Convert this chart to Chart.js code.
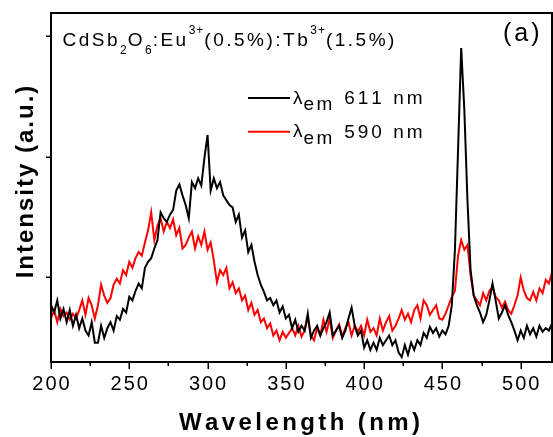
<!DOCTYPE html>
<html><head><meta charset="utf-8">
<script src="https://cdn.jsdelivr.net/npm/chart.js@4/dist/chart.umd.min.js"></script>
<style>html,body{margin:0;padding:0;background:#fff;}#wrap{width:553px;height:437px;}</style>
</head><body><div id="wrap"><canvas id="c" width="553" height="437"></canvas></div>
<script>
// ---- data ----
const wavelengths = [
200,202,204,206,208,210,212,214,216,218,
220,222,224,226,228,230,232,234,236,238,
240,242,244,246,248,250,252,254,256,258,
260,262,264,266,268,270,272,274,276,278,
280,282,284,286,288,290,292,294,296,298,
300,302,304,306,308,310,312,314,316,318,
320,322,324,326,328,330,332,334,336,338,
340,342,344,346,348,350,352,354,356,358,
360,362,364,366,368,370,372,374,376,378,
380,382,384,386,388,390,392,394,396,398,
400,402,404,406,408,410,412,414,416,418,
420,422,424,426,428,430,432,434,436,438,
440,442,444,446,448,450,452,454,456,458,
460,462,464,466,468,470,472,474,476,478,
480,482,484,486,488,490,492,494,496,498,
500,502,504,506,508,510,512,514,516,518,
520];
const intensity611 = [
0.77,0.71,0.81,0.66,0.74,0.63,0.73,0.60,0.69,0.58,
0.66,0.56,0.52,0.63,0.46,0.46,0.60,0.50,0.58,0.63,
0.56,0.68,0.65,0.74,0.71,0.84,0.81,0.89,0.95,0.91,
1.08,1.13,1.16,1.24,1.31,1.54,1.49,1.46,1.52,1.56,
1.72,1.77,1.68,1.60,1.49,1.79,1.74,1.82,1.76,1.99,
2.18,1.72,1.82,1.74,1.79,1.68,1.64,1.60,1.58,1.46,
1.52,1.33,1.39,1.21,1.27,1.13,1.02,0.94,0.88,0.81,
0.83,0.77,0.81,0.71,0.76,0.66,0.69,0.58,0.65,0.55,
0.60,0.56,0.70,0.50,0.56,0.60,0.52,0.58,0.63,0.71,
0.52,0.56,0.60,0.50,0.56,0.66,0.75,0.60,0.52,0.56,
0.42,0.48,0.40,0.46,0.40,0.50,0.44,0.48,0.52,0.44,
0.48,0.38,0.34,0.44,0.36,0.46,0.40,0.48,0.44,0.54,
0.50,0.59,0.54,0.58,0.51,0.56,0.53,0.60,0.77,1.23,
2.06,2.90,2.39,1.64,1.06,0.85,0.77,0.71,0.63,0.69,
0.81,0.95,0.81,0.66,0.71,0.77,0.69,0.63,0.56,0.48,
0.56,0.50,0.60,0.53,0.58,0.51,0.60,0.55,0.58,0.56,
0.62];
const intensity590 = [
0.66,0.73,0.63,0.74,0.68,0.71,0.65,0.70,0.66,0.73,
0.81,0.69,0.83,0.77,0.66,0.77,0.94,0.85,0.79,0.83,
0.94,0.99,0.95,1.06,1.02,1.13,1.08,1.16,1.21,1.18,
1.29,1.39,1.54,1.31,1.43,1.49,1.38,1.46,1.41,1.48,
1.35,1.41,1.24,1.27,1.33,1.38,1.24,1.34,1.27,1.38,
1.23,1.29,1.14,0.96,1.06,1.02,1.08,0.91,0.96,0.87,
0.91,0.81,0.85,0.73,0.79,0.69,0.73,0.63,0.66,0.58,
0.62,0.52,0.56,0.48,0.55,0.50,0.54,0.58,0.52,0.60,
0.51,0.56,0.67,0.52,0.48,0.58,0.52,0.65,0.55,0.66,
0.50,0.56,0.61,0.51,0.58,0.63,0.52,0.60,0.55,0.60,
0.52,0.65,0.55,0.58,0.52,0.66,0.56,0.63,0.68,0.56,
0.60,0.66,0.73,0.65,0.70,0.63,0.73,0.77,0.66,0.81,
0.77,0.69,0.73,0.77,0.66,0.65,0.70,0.77,0.84,0.89,
1.18,1.31,1.23,1.27,1.02,0.85,0.81,0.77,0.87,0.81,
0.89,0.92,0.84,0.81,0.75,0.80,0.73,0.70,0.77,0.85,
1.00,0.89,0.83,0.81,0.88,0.81,0.91,0.87,0.98,0.95,
1.04];
const xTickValues = [200,250,300,350,400,450,500];
const xMinorTickValues = [225,275,325,375,425,475];
const yTickValues = [1,2,3];
const seriesLabels = ['611 nm','590 nm'];
const xTitle = 'Wavelength (nm)';
const yTitle = 'Intensity (a.u.)';
const panelLabel = '(a)';

// ---- drawing ----
const FONT = '"Liberation Sans", Arial, sans-serif';
function charsWidth(ctx, text, sp){ let w=0; for (const ch of text) w += ctx.measureText(ch).width + sp; return w; }
function drawSpaced(ctx, text, x, y, sp){ for (const ch of text){ ctx.fillText(ch, x, y); x += ctx.measureText(ch).width + sp; } return x; }
function drawSpacedCentered(ctx, text, cx, y, sp){ const w = charsWidth(ctx, text, sp) - sp; drawSpaced(ctx, text, cx - w/2, y, sp); }

const deco = {
  id: 'deco',
  afterDraw(chart){
    const ctx = chart.ctx, ca = chart.chartArea;
    const xs = chart.scales.x, ys = chart.scales.y;
    ctx.save();
    ctx.fillStyle = '#000'; ctx.strokeStyle = '#000';
    ctx.textAlign = 'left'; ctx.textBaseline = 'alphabetic';
    // frame
    ctx.lineWidth = 2;
    ctx.strokeRect(ca.left, ca.top, ca.right - ca.left, ca.bottom - ca.top);
    // ticks
    ctx.lineWidth = 1.5;
    ctx.beginPath();
    xTickValues.forEach(v => { const p = Math.round(xs.getPixelForValue(v)) + 0.25; ctx.moveTo(p, ca.bottom); ctx.lineTo(p, ca.bottom + 7); });
    xMinorTickValues.forEach(v => { const p = Math.round(xs.getPixelForValue(v)) + 0.25; ctx.moveTo(p, ca.bottom); ctx.lineTo(p, ca.bottom + 4); });
    yTickValues.forEach(v => { const p = Math.round(ys.getPixelForValue(v)) + 0.25; ctx.moveTo(ca.left, p); ctx.lineTo(ca.left - 5, p); });
    ctx.stroke();
    // x tick labels
    ctx.font = '20px ' + FONT;
    xTickValues.forEach(v => drawSpacedCentered(ctx, String(v), xs.getPixelForValue(v), 390, 2));
    // axis titles
    ctx.font = 'bold 24px ' + FONT;
    drawSpacedCentered(ctx, xTitle, (ca.left + ca.right)/2 - 2, 430, 3.4);
    ctx.save();
    ctx.translate(33, 182);
    ctx.rotate(-Math.PI/2);
    drawSpacedCentered(ctx, yTitle, 0, 0, 2);
    ctx.restore();
    // composition annotation
    const pieces = [['CdSb',19,0],['2',12,8],['O',19,0],['6',12,8],[':Eu',19,0],['3+',12,-12],['(0.5%):Tb',19,0],['3+',12,-12],['(1.5%)',19,0]];
    let x = 62.5;
    pieces.forEach(([t, s, dy]) => { ctx.font = s + 'px ' + FONT; x = drawSpaced(ctx, t, x, 45.7 + dy, s === 19 ? 2.5 : 1); });
    // panel label
    ctx.font = '25px ' + FONT;
    drawSpaced(ctx, panelLabel, 503, 41, 3);
    // legend
    const colors = [chart.data.datasets[0].borderColor, chart.data.datasets[1].borderColor];
    [98, 131.7].forEach((ly, i) => {
      ctx.strokeStyle = colors[i]; ctx.lineWidth = 2;
      ctx.beginPath(); ctx.moveTo(248, ly); ctx.lineTo(290, ly); ctx.stroke();
      ctx.fillStyle = '#000';
      ctx.font = '19px ' + FONT;
      let lx = drawSpaced(ctx, '\u03bb', 293, ly + 5.5, 1);
      ctx.font = '19px ' + FONT;
      lx = drawSpaced(ctx, 'em', lx, ly + 12, 2.5);
      drawSpaced(ctx, ' ' + seriesLabels[i], lx + 1, ly + 6.3, 3);
    });
    ctx.restore();
  }
};

new Chart(document.getElementById('c'), {
  type: 'line',
  data: {
    labels: wavelengths,
    datasets: [
      { label: seriesLabels[0], data: wavelengths.map((w, i) => ({x: w, y: intensity611[i]})), borderColor: '#000000', borderWidth: 2, pointRadius: 0, tension: 0, fill: false },
      { label: seriesLabels[1], data: wavelengths.map((w, i) => ({x: w, y: intensity590[i]})), borderColor: '#ff0000', borderWidth: 2, pointRadius: 0, tension: 0, fill: false }
    ]
  },
  options: {
    responsive: false, animation: false, devicePixelRatio: 1,
    layout: { padding: { top: 13, right: 1, left: 0, bottom: 0 } },
    plugins: { legend: { display: false }, tooltip: { enabled: false } },
    scales: {
      x: {
        type: 'linear', min: 200, max: 520,
        grid: { display: false }, border: { display: false },
        ticks: { display: false },
        afterBuildTicks: s => { s.ticks = xTickValues.map(v => ({value: v})); },
        afterFit: s => { s.height = 75; }
      },
      y: {
        type: 'linear', min: 0.30, max: 3.19,
        grid: { display: false }, border: { display: false },
        ticks: { display: false },
        afterBuildTicks: s => { s.ticks = yTickValues.map(v => ({value: v})); },
        afterFit: s => { s.width = 51; }
      }
    }
  },
  plugins: [deco]
});
</script></body></html>
